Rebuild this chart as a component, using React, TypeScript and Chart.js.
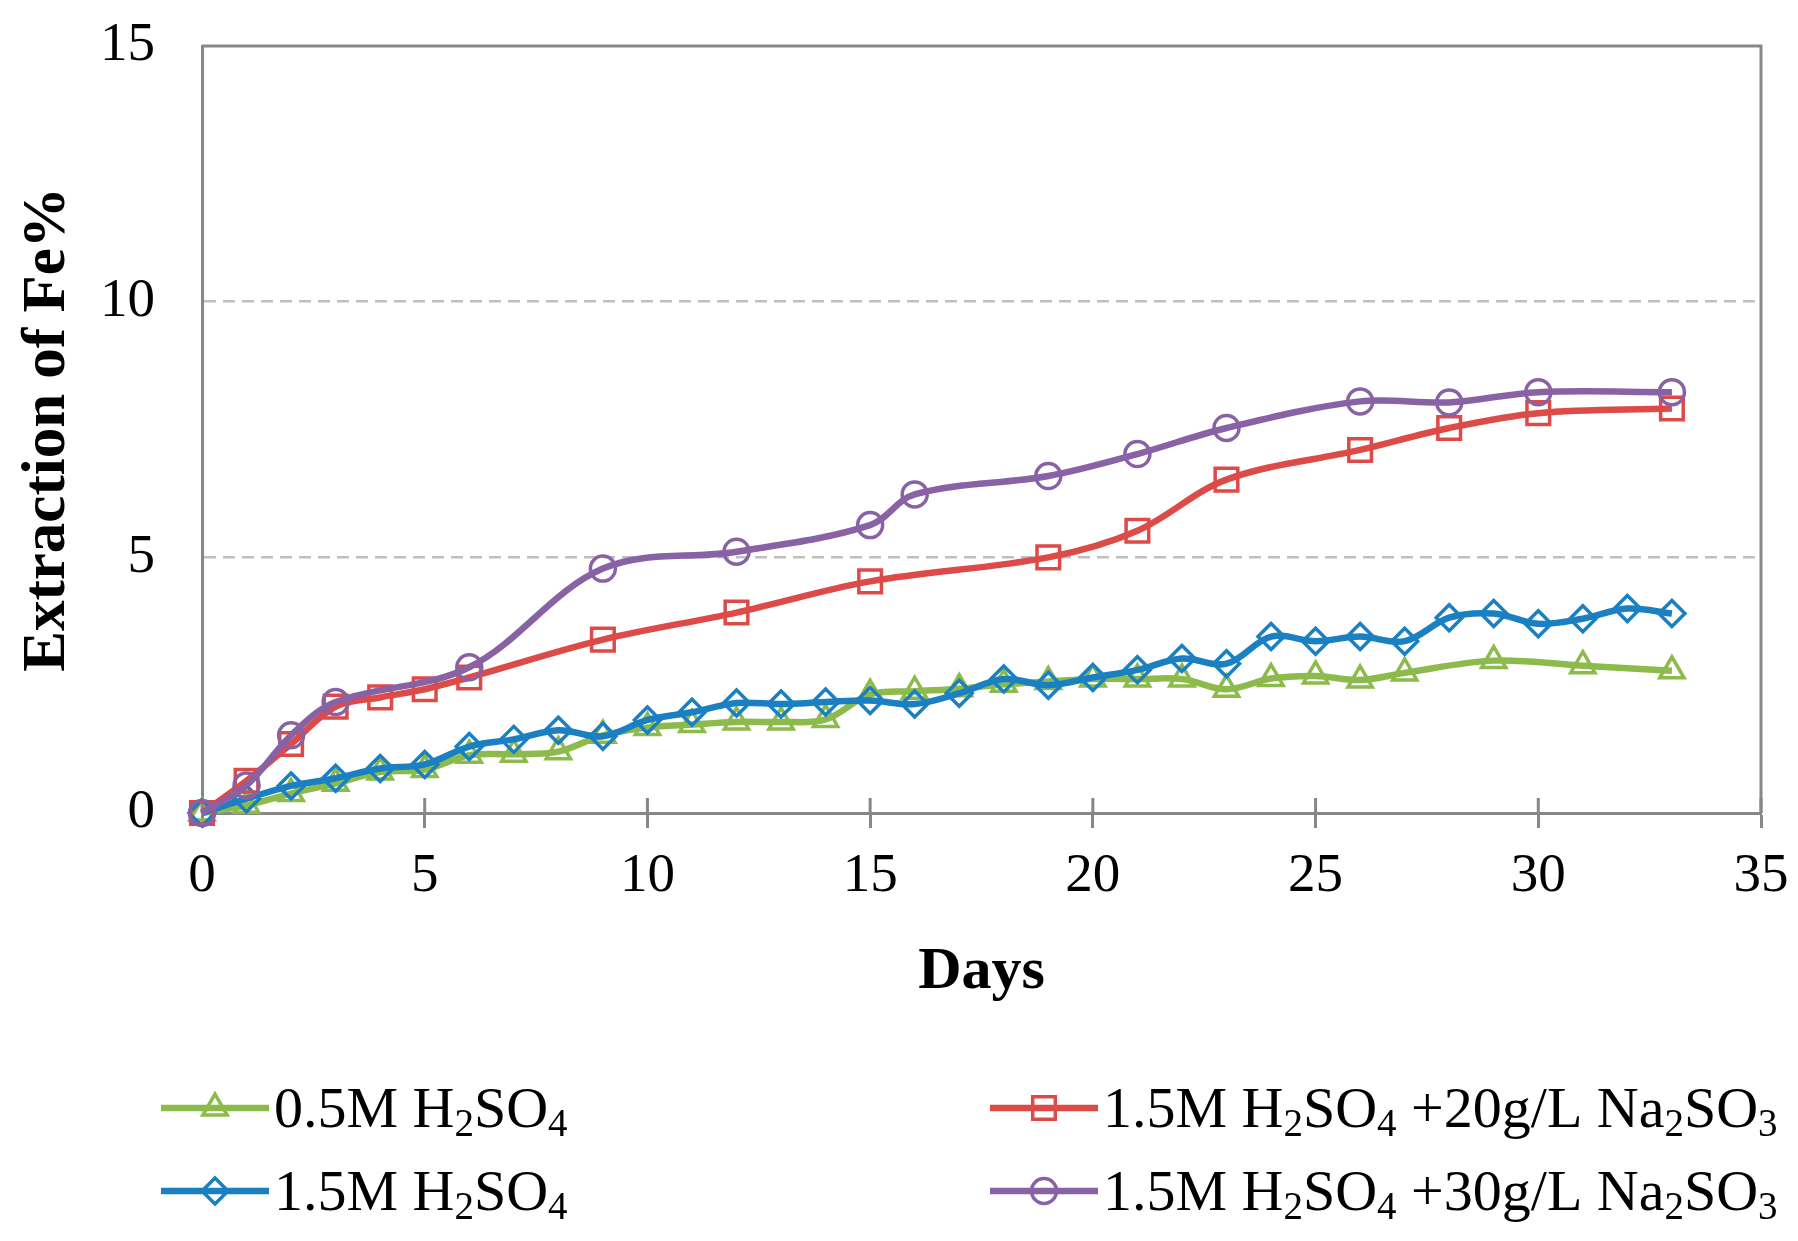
import React, { useEffect, useRef } from 'react';
import { Chart, registerables } from 'chart.js';

Chart.register(...registerables);

// ---------- data ----------
const greenDays = [0, 1, 2, 3, 4, 5, 6, 7, 8, 9, 10, 11, 12, 13, 14, 15, 16, 17, 18, 19, 20, 21, 22, 23, 24, 25, 26, 27, 29, 31, 33];
const greenValues = [0, 0.15, 0.38, 0.58, 0.8, 0.85, 1.13, 1.15, 1.2, 1.52, 1.67, 1.73, 1.78, 1.78, 1.83, 2.32, 2.38, 2.43, 2.52, 2.57, 2.62, 2.62, 2.62, 2.42, 2.63, 2.68, 2.6, 2.74, 2.98, 2.88, 2.78];

const blueDays = [0, 1, 2, 3, 4, 5, 6, 7, 8, 9, 10, 11, 12, 13, 14, 15, 16, 17, 18, 19, 20, 21, 22, 23, 24, 25, 26, 27, 28, 29, 30, 31, 32, 33];
const blueValues = [0, 0.28, 0.53, 0.68, 0.87, 0.95, 1.3, 1.44, 1.62, 1.5, 1.82, 1.97, 2.15, 2.13, 2.17, 2.2, 2.13, 2.34, 2.62, 2.5, 2.65, 2.8, 3.02, 2.92, 3.45, 3.36, 3.45, 3.36, 3.82, 3.9, 3.7, 3.8, 4.0, 3.9];

const redDays = [0, 1, 2, 3, 4, 5, 6, 9, 12, 15, 19, 21, 23, 26, 28, 30, 33];
const redValues = [0, 0.63, 1.35, 2.08, 2.26, 2.42, 2.65, 3.39, 3.92, 4.53, 5.0, 5.52, 6.52, 7.1, 7.53, 7.82, 7.91];

const purpleDays = [0, 1, 2, 3, 6, 9, 12, 15, 16, 19, 21, 23, 26, 28, 30, 33];
const purpleValues = [0, 0.54, 1.52, 2.17, 2.85, 4.78, 5.11, 5.63, 6.23, 6.59, 7.02, 7.53, 8.05, 8.03, 8.23, 8.23];

const seriesLabels = [
  '0.5M H2SO4',
  '1.5M H2SO4 +20g/L Na2SO3',
  '1.5M H2SO4',
  '1.5M H2SO4 +30g/L Na2SO3',
];
// legend text split into [text, isSubscript]
const legendParts: [string, boolean][][] = [
  [['0.5M H', false], ['2', true], ['SO', false], ['4', true]],
  [['1.5M H', false], ['2', true], ['SO', false], ['4', true], [' +20g/L Na', false], ['2', true], ['SO', false], ['3', true]],
  [['1.5M H', false], ['2', true], ['SO', false], ['4', true]],
  [['1.5M H', false], ['2', true], ['SO', false], ['4', true], [' +30g/L Na', false], ['2', true], ['SO', false], ['3', true]],
];

const xMin = 0, xMax = 35, xStep = 5;
const yMin = 0, yMax = 15, yStep = 5;

// ---------- styles ----------
const FONT = "'Liberation Serif', 'Times New Roman', serif";
const AXIS = '#878787';
const GRID = '#BFBFBF';
const GREEN = '#8CBB4C';
const BLUE = '#1A80C2';
const RED = '#DC4B48';
const PURPLE = '#8962A5';

const LEGEND_COL_X = [161, 990];
const LEGEND_ROW_Y = [1108, 1191];
const LEGEND_LINE = 108;
const LEGEND_FONT = 58;
const LEGEND_SUB = 39;

function pts(xs: number[], ys: number[]) {
  return xs.map((x, i) => ({ x, y: ys[i] }));
}

function drawMarker(ctx: CanvasRenderingContext2D, style: string, x: number, y: number, r: number, color: string, bw: number) {
  ctx.save();
  ctx.strokeStyle = color;
  ctx.lineWidth = bw;
  ctx.beginPath();
  if (style === 'circle') {
    ctx.arc(x, y, r, 0, Math.PI * 2);
  } else if (style === 'triangle') {
    ctx.moveTo(x, y - r);
    ctx.lineTo(x + 0.866 * r, y + 0.5 * r);
    ctx.lineTo(x - 0.866 * r, y + 0.5 * r);
    ctx.closePath();
  } else if (style === 'rectRot') {
    ctx.moveTo(x, y - r);
    ctx.lineTo(x + r, y);
    ctx.lineTo(x, y + r);
    ctx.lineTo(x - r, y);
    ctx.closePath();
  } else {
    const s = r * Math.SQRT1_2;
    ctx.rect(x - s, y - s, 2 * s, 2 * s);
  }
  ctx.stroke();
  ctx.restore();
}

const framePlugin = {
  id: 'frame',
  beforeDatasetsDraw(chart: any) {
    const { ctx, chartArea } = chart;
    const xs = chart.scales.x;
    ctx.save();
    ctx.strokeStyle = AXIS;
    ctx.lineWidth = 3;
    ctx.beginPath();
    ctx.moveTo(chartArea.left, chartArea.top);
    ctx.lineTo(chartArea.right, chartArea.top);
    ctx.lineTo(chartArea.right, chartArea.bottom);
    ctx.stroke();
    // inner half of the cross tick marks
    ctx.beginPath();
    for (let v = xMin; v <= xMax; v += xStep) {
      const px = xs.getPixelForValue(v);
      ctx.moveTo(px, chartArea.bottom);
      ctx.lineTo(px, chartArea.bottom - 15);
    }
    ctx.stroke();
    ctx.restore();
  },
};

const legendPlugin = {
  id: 'customLegend',
  afterDraw(chart: any) {
    const ctx: CanvasRenderingContext2D = chart.ctx;
    chart.data.datasets.forEach((ds: any, i: number) => {
      const col = i % 2;
      const row = Math.floor(i / 2);
      const x0 = LEGEND_COL_X[col];
      const y = LEGEND_ROW_Y[row];
      ctx.save();
      ctx.strokeStyle = ds.borderColor;
      ctx.lineWidth = ds.borderWidth;
      ctx.beginPath();
      ctx.moveTo(x0, y);
      ctx.lineTo(x0 + LEGEND_LINE, y);
      ctx.stroke();
      drawMarker(ctx, ds.pointStyle, x0 + LEGEND_LINE / 2, y, ds.pointRadius, ds.borderColor, ds.pointBorderWidth);
      let tx = x0 + LEGEND_LINE + 5;
      ctx.fillStyle = '#000';
      ctx.textAlign = 'left';
      ctx.textBaseline = 'alphabetic';
      for (const [t, sub] of legendParts[i]) {
        ctx.font = `${sub ? LEGEND_SUB : LEGEND_FONT}px ${FONT}`;
        ctx.fillText(t, tx, y + 19 + (sub ? 9 : 0));
        tx += ctx.measureText(t).width;
      }
      ctx.restore();
    });
  },
};

export default function App() {
  const ref = useRef<HTMLCanvasElement>(null);

  useEffect(() => {
    document.body.style.margin = '0';
    const canvas = ref.current;
    if (!canvas) return;
    const mk = (label: string, data: any, color: string, style: string, radius: number, order: number) => ({
      label,
      data,
      borderColor: color,
      backgroundColor: color,
      borderWidth: 6.5,
      pointStyle: style,
      pointRadius: radius,
      pointBorderWidth: 3.5,
      pointBorderColor: color,
      pointBackgroundColor: 'rgba(0,0,0,0)',
      tension: 0.35,
      fill: false,
      clip: false,
      order,
    });
    const chart = new Chart(canvas, {
      type: 'line',
      data: {
        datasets: [
          mk(seriesLabels[0], pts(greenDays, greenValues), GREEN, 'triangle', 14, 3),
          mk(seriesLabels[1], pts(redDays, redValues), RED, 'rect', 16, 1),
          mk(seriesLabels[2], pts(blueDays, blueValues), BLUE, 'rectRot', 13, 2),
          mk(seriesLabels[3], pts(purpleDays, purpleValues), PURPLE, 'circle', 12.5, 0),
        ] as any,
      },
      options: {
        responsive: false,
        devicePixelRatio: 1,
        animation: false,
        layout: { padding: { left: 0, right: 37, top: 46, bottom: 233 } },
        plugins: {
          legend: { display: false },
          tooltip: { enabled: false },
        },
        scales: {
          x: {
            type: 'linear',
            min: xMin,
            max: xMax,
            ticks: { stepSize: xStep, padding: 16, color: '#000', font: { family: FONT, size: 55 } },
            grid: { drawOnChartArea: false, drawTicks: true, tickLength: 15, tickColor: AXIS, tickWidth: 3 },
            border: { color: AXIS, width: 3 },
            title: { display: true, text: 'Days', color: '#000', font: { family: FONT, size: 60, weight: 'bold' }, padding: 0 },
            afterFit: (s: any) => { s.height = 195; s.paddingLeft = 0; s.paddingRight = 0; },
          },
          y: {
            type: 'linear',
            min: yMin,
            max: yMax,
            ticks: { stepSize: yStep, padding: 47, color: '#000', font: { family: FONT, size: 55 } },
            grid: {
              drawTicks: false,
              lineWidth: 2.5,
              color: (c: any) => (c.tick && (c.tick.value === 5 || c.tick.value === 10) ? GRID : 'rgba(0,0,0,0)'),
            },
            border: { color: AXIS, width: 3, dash: [12, 7] },
            title: { display: true, text: 'Extraction of Fe%', color: '#000', font: { family: FONT, size: 61, weight: 'bold' }, padding: { top: 12, bottom: 0 } },
            afterFit: (s: any) => { s.width = 202; s.paddingTop = 10; s.paddingBottom = 10; },
          },
        },
      } as any,
      plugins: [framePlugin, legendPlugin],
    });
    return () => chart.destroy();
  }, []);

  return <canvas ref={ref} width={1798} height={1241} style={{ display: 'block' }} />;
}
